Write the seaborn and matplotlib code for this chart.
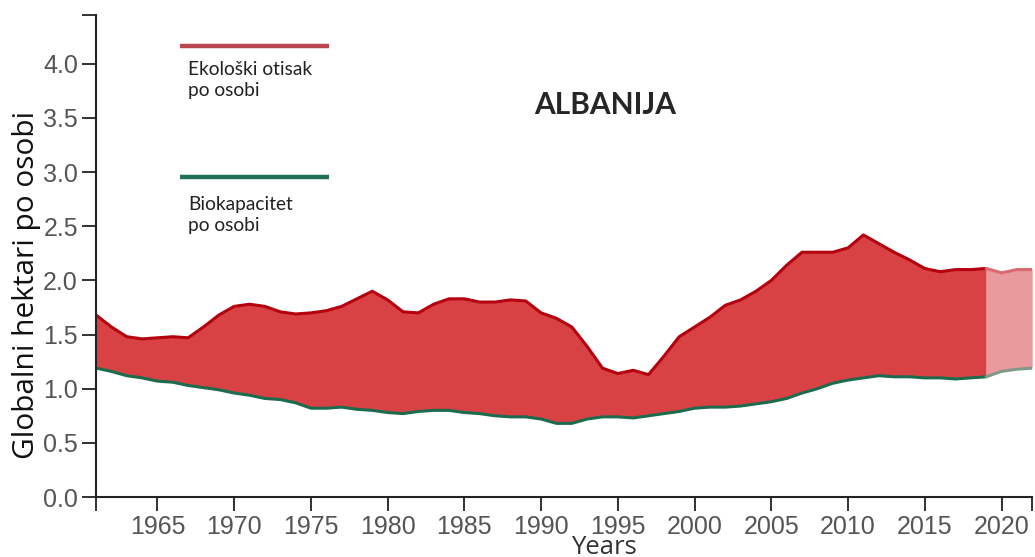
import numpy as np
import pandas as pd
import matplotlib
matplotlib.use("Agg")
import matplotlib.pyplot as plt
import seaborn as sns

# Data (global hectares per person, Albania)
years = list(range(1961, 2020))
footprint = [1.68, 1.57, 1.48, 1.46, 1.47, 1.48, 1.47, 1.57, 1.68, 1.76,
             1.78, 1.76, 1.71, 1.69, 1.70, 1.72, 1.76, 1.83, 1.90, 1.82,
             1.71, 1.70, 1.78, 1.83, 1.83, 1.80, 1.80, 1.82, 1.81, 1.70,
             1.65, 1.57, 1.39, 1.19, 1.14, 1.17, 1.13, 1.30, 1.48, 1.57,
             1.66, 1.77, 1.82, 1.90, 2.00, 2.14, 2.26, 2.26, 2.26, 2.30,
             2.42, 2.34, 2.26, 2.19, 2.11, 2.08, 2.10, 2.10, 2.11]
biocapacity = [1.19, 1.16, 1.12, 1.10, 1.07, 1.06, 1.03, 1.01, 0.99, 0.96,
               0.94, 0.91, 0.90, 0.87, 0.82, 0.82, 0.83, 0.81, 0.80, 0.78,
               0.77, 0.79, 0.80, 0.80, 0.78, 0.77, 0.75, 0.74, 0.74, 0.72,
               0.68, 0.68, 0.72, 0.74, 0.74, 0.73, 0.75, 0.77, 0.79, 0.82,
               0.83, 0.83, 0.84, 0.86, 0.88, 0.91, 0.96, 1.00, 1.05, 1.08,
               1.10, 1.12, 1.11, 1.11, 1.10, 1.10, 1.09, 1.10, 1.11]

# Estimated (pale) extension
years_est = [2019, 2020, 2021, 2022]
footprint_est = [2.11, 2.07, 2.10, 2.10]
biocapacity_est = [1.11, 1.16, 1.18, 1.19]

df = pd.DataFrame({"year": years, "footprint": footprint, "biocapacity": biocapacity})
df_est = pd.DataFrame({"year": years_est, "footprint": footprint_est,
                       "biocapacity": biocapacity_est})

sns.set_style("white")
plt.rcParams["font.family"] = ["Liberation Sans Narrow", "Liberation Sans", "DejaVu Sans"]

fig = plt.figure(figsize=(10.35, 5.57), dpi=100)
ax = fig.add_axes([0.0928, 0.1077, 0.9045, 0.8653])

# Deficit area
ax.fill_between(df["year"], df["biocapacity"], df["footprint"], color="#d94245", lw=0)
ax.fill_between(df_est["year"], df_est["biocapacity"], df_est["footprint"],
                color="#e89a9c", lw=0)

sns.lineplot(data=df, x="year", y="footprint", ax=ax, color="#b5000f", lw=2.2)
sns.lineplot(data=df, x="year", y="biocapacity", ax=ax, color="#1d6b4d", lw=2.2)
sns.lineplot(data=df_est, x="year", y="footprint", ax=ax, color="#dc6870", lw=2.2)
sns.lineplot(data=df_est, x="year", y="biocapacity", ax=ax, color="#7f9a88", lw=2.2)

ax.set_xlim(1961, 2022)
ax.set_ylim(0, 4.45)

xt = [1961] + list(range(1965, 2021, 5)) + [2022]
ax.set_xticks(xt)
ax.set_xticklabels([""] + [str(y) for y in range(1965, 2021, 5)] + [""])
yt = [0, 0.5, 1.0, 1.5, 2.0, 2.5, 3.0, 3.5, 4.0, 4.45]
ax.set_yticks(yt)
ax.set_yticklabels([f"{v:.1f}" for v in yt[:-1]] + [""])

ax.tick_params(axis="both", direction="out", length=10, width=1.3, color="#222222",
               labelsize=18, labelcolor="#555555", pad=3)
ax.tick_params(axis="x", bottom=True)
ax.tick_params(axis="y", left=True)
for side in ["top", "right"]:
    ax.spines[side].set_visible(False)
for side in ["left", "bottom"]:
    ax.spines[side].set_color("#222222")
    ax.spines[side].set_linewidth(1.5)

ax.set_xlabel("Years", fontsize=18.5, family=["Open Sans", "DejaVu Sans"], color="#333333")
ax.xaxis.label.set_va("baseline")
ax.xaxis.set_label_coords(0.543, -0.1185)
ax.set_ylabel("Globalni hektari po osobi", fontsize=21.5,
              family=["Open Sans", "DejaVu Sans"], color="#111111")
ax.yaxis.label.set_va("center")
ax.yaxis.set_label_coords(-0.074, 0.44)

# Custom legend
ax.plot([0.0897, 0.249], [0.936, 0.936], transform=ax.transAxes, color="#b8474f",
        lw=3.2, solid_capstyle="butt")
ax.text(0.098, 0.905, "Ekološki otisak\npo osobi", transform=ax.transAxes,
        fontsize=13.8, va="top", ha="left", linespacing=1.3,
        family=["Lato", "DejaVu Sans"], color="#222222")
ax.plot([0.0897, 0.249], [0.664, 0.664], transform=ax.transAxes, color="#1f7052",
        lw=3.2, solid_capstyle="butt")
ax.text(0.098, 0.625, "Biokapacitet\npo osobi", transform=ax.transAxes,
        fontsize=13.8, va="top", ha="left", linespacing=1.3,
        family=["Lato", "DejaVu Sans"], color="#222222")

ax.text(0.544, 0.814, "ALBANIJA", transform=ax.transAxes, fontsize=21.5,
        fontweight="bold", ha="center", va="center", family=["Lato", "DejaVu Sans"])

fig.savefig("out.png", dpi=100)
